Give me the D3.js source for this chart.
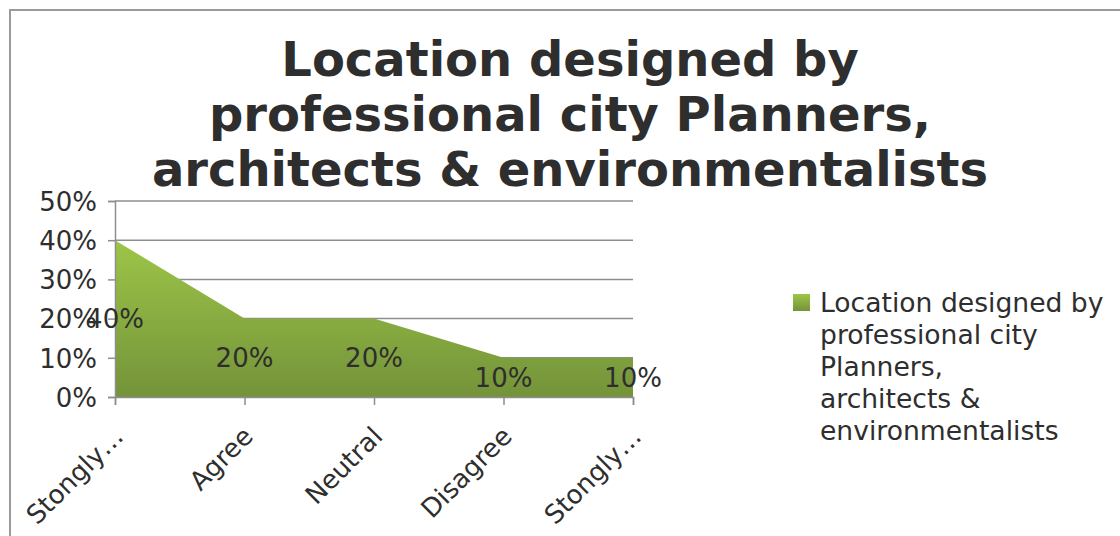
<!DOCTYPE html>
<html>
<head>
<meta charset="utf-8">
<script src="https://cdn.jsdelivr.net/npm/d3@7/dist/d3.min.js"></script>
<style>
  html, body { margin: 0; padding: 0; background: #fff; }
  svg { display: block; font-family: "DejaVu Sans", Verdana, sans-serif; }
</style>
</head>
<body>
<svg id="chart" width="1120" height="536"></svg>
<script>
// Survey responses
const categories = ["Stongly…", "Agree", "Neutral", "Disagree", "Stongly…"];
const values = [0.40, 0.20, 0.20, 0.10, 0.10];
const yTicks = [0, 0.1, 0.2, 0.3, 0.4, 0.5];
const titleLines = ["Location designed by", "professional city Planners,", "architects & environmentalists"];
const legendLines = ["Location designed by", "professional city", "Planners,", "architects &", "environmentalists"];

const svg = d3.select("#chart");
const textColor = "#2e2e2e";
const gridColor = "#8e8e8e";

// outer frame
svg.append("path")
  .attr("d", "M10,536 L10,10 L1120,10")
  .attr("fill", "none")
  .attr("stroke", "#9a9a9a")
  .attr("stroke-width", 2);

// title
svg.append("text")
  .attr("text-anchor", "middle")
  .attr("font-size", 48)
  .attr("font-weight", "bold")
  .attr("fill", textColor)
  .selectAll("tspan")
  .data(titleLines)
  .join("tspan")
  .attr("x", 570)
  .attr("y", (d, i) => 76 + i * 55)
  .text(d => d);

const x = d3.scalePoint().domain(d3.range(categories.length)).range([115, 633]).padding(0);
const y = d3.scaleLinear().domain([0, 0.5]).range([397, 201]);

// gradient fills for the area and the legend swatch
const defs = svg.append("defs");
const grad = defs.append("linearGradient")
  .attr("id", "areaFill")
  .attr("gradientUnits", "userSpaceOnUse")
  .attr("x1", 0).attr("x2", 0)
  .attr("y1", y(d3.max(values))).attr("y2", y(0));
grad.append("stop").attr("offset", 0).attr("stop-color", "#9dc548");
grad.append("stop").attr("offset", 1).attr("stop-color", "#74933a");

const lg = defs.append("linearGradient")
  .attr("id", "legendFill")
  .attr("x1", 0).attr("x2", 0).attr("y1", 0).attr("y2", 1);
lg.append("stop").attr("offset", 0).attr("stop-color", "#9dc548");
lg.append("stop").attr("offset", 1).attr("stop-color", "#74933a");

// gridlines
svg.append("g")
  .selectAll("line")
  .data(yTicks.filter(d => d > 0))
  .join("line")
  .attr("x1", x(0)).attr("x2", x(categories.length - 1))
  .attr("y1", d => y(d)).attr("y2", d => y(d))
  .attr("stroke", gridColor)
  .attr("stroke-width", 1.5);

// area
const area = d3.area()
  .x((d, i) => x(i))
  .y0(y(0))
  .y1(d => y(d));
svg.append("path")
  .datum(values)
  .attr("d", area)
  .attr("fill", "url(#areaFill)");

// y axis
const yAxis = svg.append("g")
  .attr("transform", `translate(${x(0)},0)`)
  .call(d3.axisLeft(y).tickValues(yTicks).tickFormat(d3.format(".0%")).tickSize(7).tickPadding(11));
yAxis.select(".domain").attr("stroke", gridColor).attr("stroke-width", 1.5);
yAxis.selectAll(".tick line").attr("stroke", gridColor).attr("stroke-width", 1.5);
yAxis.selectAll(".tick text")
  .attr("font-size", 26)
  .attr("font-family", "DejaVu Sans, sans-serif")
  .attr("fill", textColor)
  .attr("dy", "0.36em");

// x axis
const xAxis = svg.append("g")
  .attr("transform", `translate(0,${y(0)})`)
  .call(d3.axisBottom(x).tickSize(8).tickFormat(""));
xAxis.select(".domain").attr("stroke", gridColor).attr("stroke-width", 1.5);
xAxis.selectAll(".tick line").attr("stroke", gridColor).attr("stroke-width", 1.5);

// rotated category labels
svg.append("g")
  .selectAll("text")
  .data(categories)
  .join("text")
  .attr("transform", (d, i) => `translate(${x(i) + 10},438) rotate(-45)`)
  .attr("text-anchor", "end")
  .attr("font-size", 26)
  .attr("fill", textColor)
  .text(d => d);

// value labels, placed at the middle of each value
svg.append("g")
  .selectAll("text")
  .data(values)
  .join("text")
  .attr("x", (d, i) => x(i))
  .attr("y", d => y(d / 2))
  .attr("dy", "0.36em")
  .attr("text-anchor", "middle")
  .attr("font-size", 26)
  .attr("fill", textColor)
  .text(d => d3.format(".0%")(d));

// legend
const legend = svg.append("g");
legend.append("rect")
  .attr("x", 793).attr("y", 294)
  .attr("width", 17).attr("height", 17)
  .attr("fill", "url(#legendFill)");
legend.append("text")
  .attr("font-size", 26.6)
  .attr("fill", textColor)
  .selectAll("tspan")
  .data(legendLines)
  .join("tspan")
  .attr("x", 820)
  .attr("y", (d, i) => 312 + i * 32)
  .text(d => d);
</script>
</body>
</html>
